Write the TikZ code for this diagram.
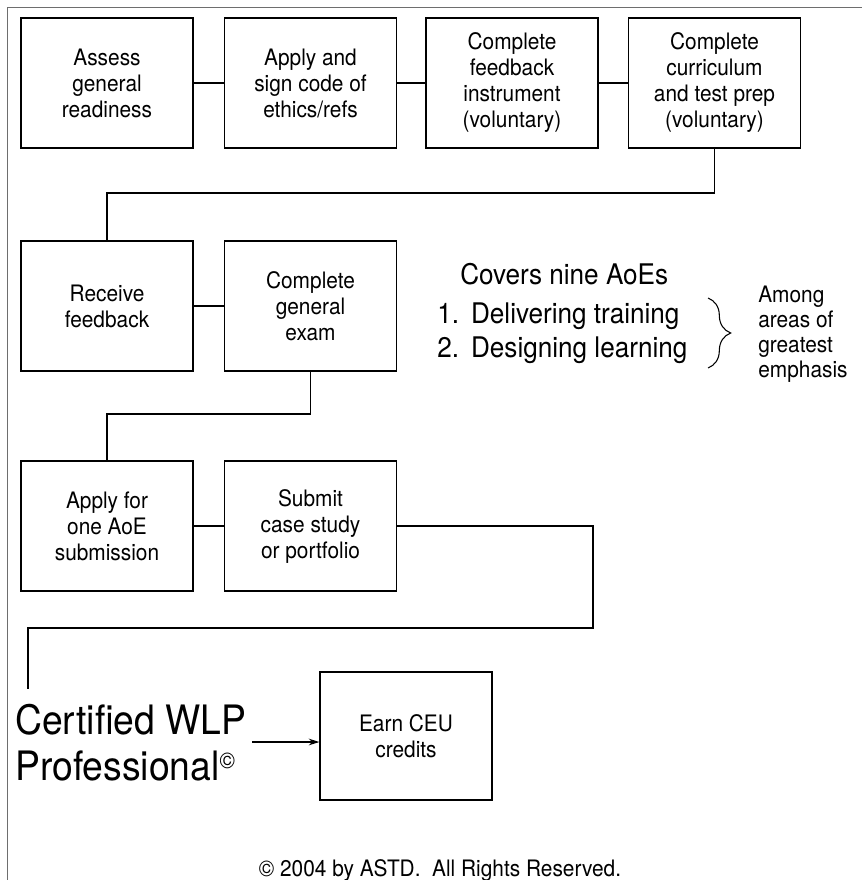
\documentclass[tikz,border=0pt]{standalone}
\usepackage{fontspec}
\setmainfont{TeX Gyre Heros}[FakeStretch=0.92]
\usetikzlibrary{arrows.meta,decorations.pathreplacing}

\definecolor{framegray}{RGB}{110,110,110}

\begin{document}
\begin{tikzpicture}[x=0.75pt,y=-0.75pt,
  stepbox/.style={draw, line width=0.95pt, inner sep=0pt, align=center,
    minimum width=129pt, minimum height=97.5pt,
    font=\fontsize{17}{19.5}\selectfont},
  link/.style={line width=0.95pt},
  smalltext/.style={inner sep=0pt, font=\fontsize{17}{18.75}\selectfont},
]
\useasboundingbox (0,0) rectangle (862,880);

% outer frame (top and left edges)
\draw[framegray, line width=1.4pt] (862,7.5) -- (7.5,7.5) -- (7.5,880);

% first row
\node[stepbox] (assess) at (107,83) {Assess\\general\\readiness};
\node[stepbox] (ethics) at (310.5,83) {Apply and\\sign code of\\ethics/refs};
\node[stepbox] (instr)  at (512,83) {Complete\\feedback\\instrument\\(voluntary)};
\node[stepbox] (prep)   at (714.5,83) {Complete\\curriculum\\and test prep\\(voluntary)};

% second row
\node[stepbox] (recv)  at (107,306) {Receive\\feedback};
\node[stepbox] (exam)  at (310.5,306) {Complete\\general\\exam};

% third row
\node[stepbox] (aoe)   at (107,526) {Apply for\\one AoE\\submission};
\node[stepbox] (case)  at (310.5,526) {Submit\\case study\\or portfolio};

% final step
\node[stepbox, minimum height=96pt] (ceu) at (406,736) {Earn CEU\\credits};

% turning points of the connectors
\coordinate (turnA) at (107,193);
\coordinate (turnB) at (107,414);
\coordinate (turnC) at (593,628);
\coordinate (endC)  at (28,689);
\coordinate (arrowstart) at (252,742);

\draw[link] (assess) -- (ethics);
\draw[link] (ethics) -- (instr);
\draw[link] (instr) -- (prep);
\draw[link] (prep.south) |- (turnA) -- (recv.north);
\draw[link] (recv) -- (exam);
\draw[link] (exam.south) |- (turnB) -- (aoe.north);
\draw[link] (aoe) -- (case);
\draw[link] (case.east) -| (turnC) -| (endC);

% exam content
\node[inner sep=0pt, anchor=base west, font=\fontsize{21.3}{25.5}\selectfont]
  (covers) at (460,285) {Covers nine AoEs};
\node[inner sep=0pt, anchor=north west, align=left,
  font=\fontsize{21.3}{25.5}\selectfont]
  (areas) at (437,303) {1.\hspace{9pt}Delivering training\\2.\hspace{9pt}Designing learning};
\draw[line width=0.8pt, decorate, decoration={brace, amplitude=17pt}]
  (708,298) -- (708,368);
\node[smalltext, anchor=north west, align=left] (emph) at (758,286)
  {Among\\areas of\\greatest\\emphasis};

% outcome
\node[inner sep=0pt, anchor=north west, align=left,
  font=\fontsize{30.4}{34.5}\selectfont]
  (cert) at (15,704) {Certified WLP\\Professional\textsuperscript{\fontsize{17}{17}\selectfont ©}};
\draw[line width=0.9pt, -{Stealth[length=8pt, width=5pt]}]
  (arrowstart) -- (ceu.west |- arrowstart);

\node[smalltext, anchor=base] (rights) at (440,876)
  {© 2004 by ASTD.\ \ All Rights Reserved.};
\end{tikzpicture}
\end{document}
